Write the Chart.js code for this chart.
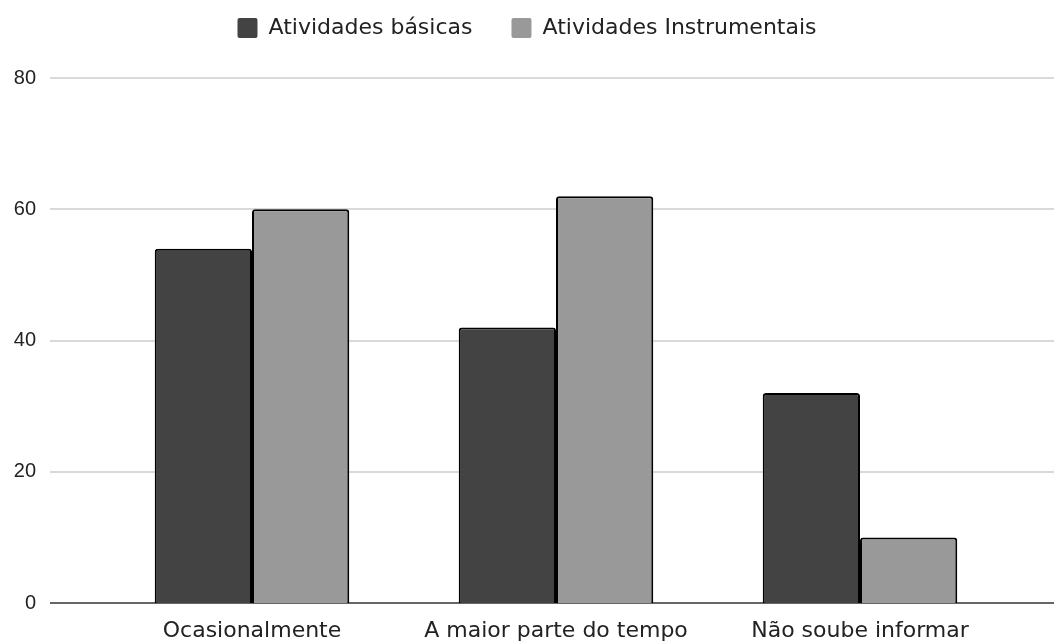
<!DOCTYPE html>
<html>
<head>
<meta charset="utf-8">
<script src="https://cdn.jsdelivr.net/npm/chart.js@4"></script>
<style>
  html, body { margin: 0; padding: 0; background: #fff; }
  #wrap { width: 1054px; height: 642px; }
</style>
</head>
<body>
<div id="wrap"><canvas id="chart" width="1054" height="642"></canvas></div>
<script>
const categories = ['Ocasionalmente', 'A maior parte do tempo', 'Não soube informar'];
const basicValues = [54, 42, 32];
const instrumentalValues = [60, 62, 10];
const yTicks = [0, 20, 40, 60, 80];

// light grid lines running across the whole width, darker baseline at zero
const gridPlugin = {
    id: 'wideGrid',
    beforeDatasetsDraw(chart) {
        const ctx = chart.ctx;
        const y = chart.scales.y;
        ctx.save();
        yTicks.forEach(v => {
            const py = Math.round(y.getPixelForValue(v));
            ctx.beginPath();
            ctx.moveTo(50, py);
            ctx.lineTo(chart.width, py);
            ctx.lineWidth = 1.5;
            ctx.strokeStyle = v === 0 ? '#333333' : '#cccccc';
            ctx.stroke();
        });
        ctx.restore();
    }
};

// extra room between the legend and the plot
const legendSpacer = {
    id: 'legendSpacer',
    beforeInit(chart) {
        const fit = chart.legend.fit;
        chart.legend.fit = function () {
            fit.bind(chart.legend)();
            this.height += 29;
        };
    }
};

const ctx = document.getElementById('chart').getContext('2d');
new Chart(ctx, {
    type: 'bar',
    data: {
        labels: categories,
        datasets: [{
            label: 'Atividades básicas',
            data: basicValues,
            backgroundColor: '#434343',
            borderColor: '#000000',
            borderWidth: 2,
            borderRadius: { topLeft: 3, topRight: 3 },
            borderSkipped: 'bottom'
        }, {
            label: 'Atividades Instrumentais',
            data: instrumentalValues,
            backgroundColor: '#999999',
            borderColor: '#000000',
            borderWidth: 2,
            borderRadius: { topLeft: 3, topRight: 3 },
            borderSkipped: 'bottom'
        }]
    },
    options: {
        responsive: false,
        animation: false,
        layout: { padding: { left: 0, right: 0, top: -22, bottom: 0 } },
        datasets: {
            bar: { categoryPercentage: 0.64, barPercentage: 1.0 }
        },
        plugins: {
            tooltip: { enabled: false },
            legend: {
                position: 'top',
                labels: {
                    font: { family: 'DejaVu Sans', size: 22 },
                    color: '#222222',
                    boxWidth: 20,
                    boxHeight: 20,
                    padding: 39,
                    useBorderRadius: true,
                    borderRadius: 2,
                    generateLabels(chart) {
                        const items = Chart.defaults.plugins.legend.labels.generateLabels(chart);
                        items.forEach(it => { it.strokeStyle = it.fillStyle; it.lineWidth = 0; });
                        return items;
                    }
                }
            }
        },
        scales: {
            x: {
                grid: { display: false, drawTicks: false },
                border: { display: false },
                ticks: {
                    font: { family: 'DejaVu Sans', size: 22 },
                    color: '#222222',
                    padding: 15
                },
                afterFit(scale) { scale.height = 39; }
            },
            y: {
                min: 0,
                max: 80,
                weight: 1,
                grid: { display: false, drawTicks: false },
                border: { display: false },
                ticks: {
                    stepSize: 20,
                    font: { family: 'Liberation Sans', size: 20 },
                    color: '#222222',
                    padding: 8
                },
                afterFit(scale) { scale.width = 44; }
            },
            // empty axes that only reserve space on both sides of the plot
            padLeft: {
                type: 'linear',
                position: 'left',
                weight: 0,
                grid: { display: false, drawTicks: false },
                border: { display: false },
                ticks: { display: false },
                afterFit(scale) { scale.width = 56; }
            },
            padRight: {
                type: 'linear',
                position: 'right',
                grid: { display: false, drawTicks: false },
                border: { display: false },
                ticks: { display: false },
                afterFit(scale) { scale.width = 42; }
            }
        }
    },
    plugins: [gridPlugin, legendSpacer]
});
</script>
</body>
</html>
